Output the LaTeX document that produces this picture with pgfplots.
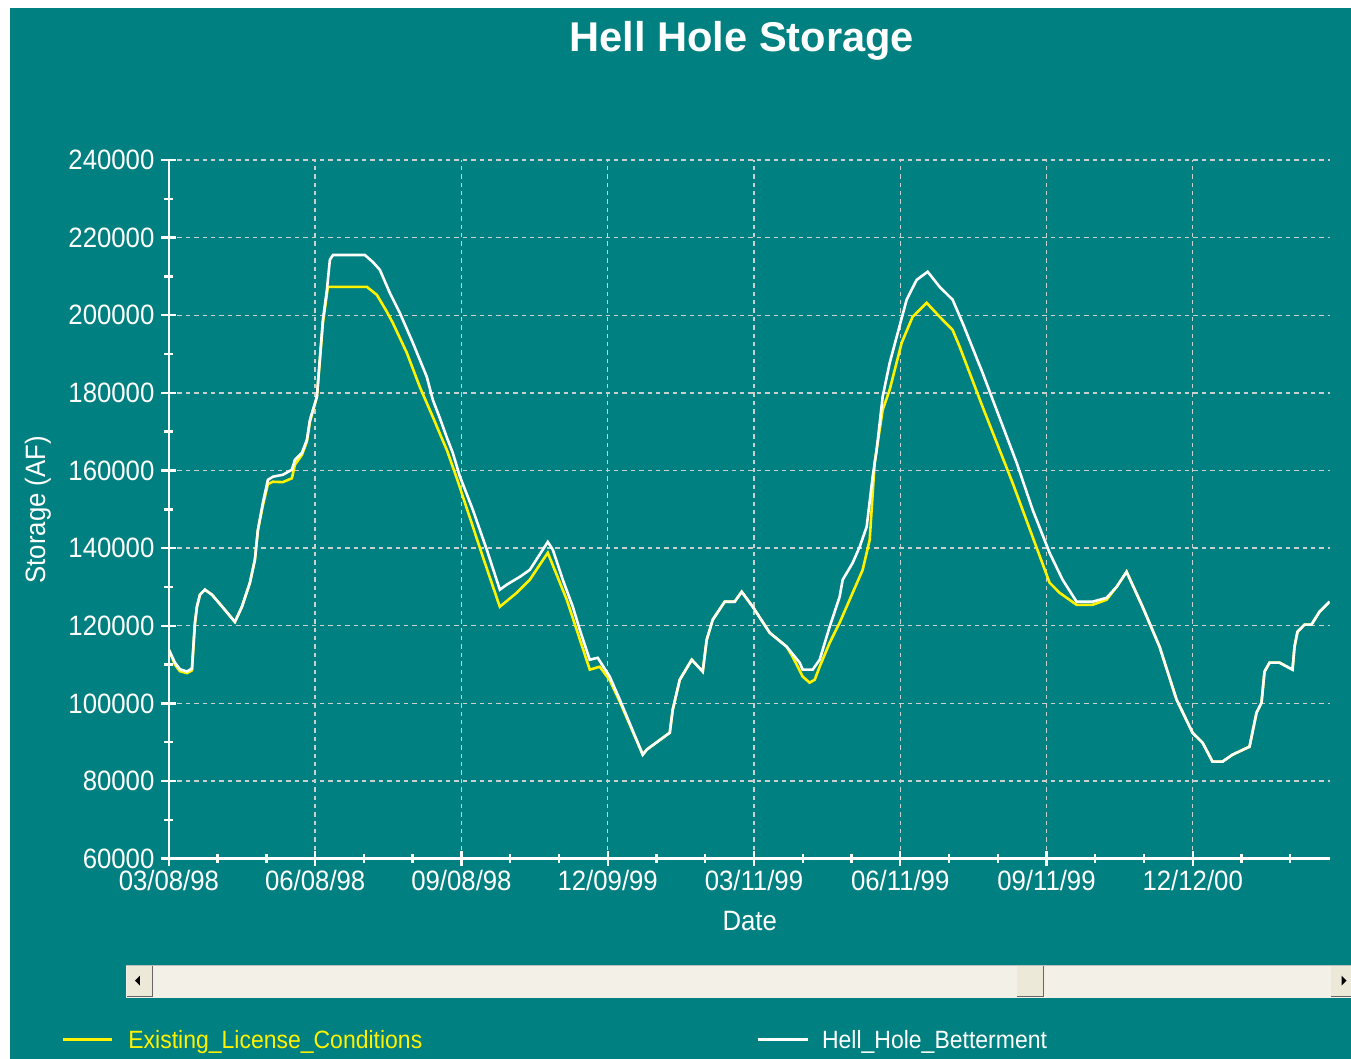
\documentclass[border=0pt]{standalone}
\usepackage{fontspec}
\setmainfont{Liberation Sans}[FakeStretch=0.92]
\newfontfamily\titlefont{Liberation Sans}
\usepackage{pgfplots}
\pgfplotsset{compat=1.18}
\definecolor{bgteal}{RGB}{0,128,128}
\definecolor{gridc}{RGB}{200,208,208}
\definecolor{sbar}{RGB}{243,241,231}
\definecolor{sbtn}{RGB}{236,233,216}

\pgfplotstableread{
x y
0 113800
0.123 110000
0.226 108300
0.369 107800
0.472 108500
0.533 120500
0.574 124900
0.636 128000
0.738 129300
0.882 128000
1.087 125000
1.353 121000
1.497 124900
1.661 131100
1.763 137000
1.825 144700
1.927 151000
2.030 156500
2.132 157100
2.337 157000
2.522 158000
2.584 161500
2.727 164000
2.830 167500
2.891 172500
3.035 179000
3.158 198000
3.260 207300
4.060 207300
4.265 205250
4.470 200900
4.593 198000
4.880 190300
5.147 181500
5.413 173800
5.557 169500
5.700 165300
5.905 158000
6.438 137800
6.787 124900
7.135 128500
7.402 131850
7.771 138800
8.161 126700
8.632 108700
8.837 109450
9.042 106000
9.247 100500
9.719 86800
9.801 88100
10.273 92450
10.334 98400
10.478 106100
10.724 111250
10.949 108200
11.031 116400
11.154 121550
11.400 126200
11.605 126200
11.749 128750
11.975 124900
12.323 118200
12.672 114600
12.795 112000
13.000 106900
13.143 105350
13.246 106100
13.348 109450
13.553 115600
13.758 120800
14.025 128500
14.230 134400
14.374 142100
14.476 162000
14.640 175600
14.784 180800
15.030 192900
15.255 199600
15.542 203200
15.809 199600
16.075 196200
16.219 191900
16.690 176400
17.306 156800
17.716 142900
18.064 131100
18.269 128500
18.618 125400
18.946 125400
19.233 126700
19.438 130000
19.643 133900
19.971 124900
20.320 114600
20.668 101000
20.996 92450
21.201 89900
21.406 85000
21.611 85000
21.817 86800
22.165 88850
22.309 97600
22.411 100200
22.473 108200
22.576 110500
22.780 110500
23.047 108700
23.088 114600
23.149 118450
23.293 120300
23.436 120300
23.600 123600
23.806 126200
}\existing

\pgfplotstableread{
x y
0 113800
0.123 110500
0.226 108800
0.369 108200
0.472 109000
0.533 120800
0.574 124900
0.636 128000
0.738 129300
0.882 128000
1.087 125000
1.353 121000
1.497 124900
1.661 131100
1.763 137000
1.825 144700
1.927 151700
2.030 157600
2.132 158400
2.337 158900
2.522 160200
2.584 162750
2.727 164550
2.830 167900
2.891 173000
3.035 179000
3.158 198800
3.240 206500
3.301 214250
3.363 215500
4.019 215500
4.183 213700
4.326 211700
4.531 205750
4.736 200600
5.003 192900
5.290 184100
5.413 178200
5.557 173500
5.700 168500
5.823 164500
5.967 158500
6.233 149900
6.520 139600
6.787 129300
6.930 130600
7.197 132600
7.402 134400
7.771 141600
7.874 139600
8.079 131850
8.284 124900
8.427 119000
8.632 111250
8.796 111750
9.042 106900
9.247 101000
9.719 86800
9.801 88100
10.273 92450
10.334 98400
10.478 106100
10.724 111250
10.949 108200
11.031 116400
11.154 121550
11.400 126200
11.605 126200
11.749 128750
11.975 124900
12.323 118200
12.672 114600
12.938 110500
13.000 108700
13.205 108700
13.348 111250
13.553 119750
13.758 127500
13.820 131850
14.025 136200
14.169 140350
14.312 145500
14.435 158400
14.517 165300
14.640 179000
14.784 187700
14.927 194400
15.132 204000
15.337 209100
15.563 211200
15.809 207300
16.075 204000
16.280 198000
16.690 185150
16.977 175600
17.388 162000
17.716 149900
18.064 138800
18.331 131850
18.618 126200
18.946 126200
19.233 127200
19.438 130000
19.643 133900
19.971 124900
20.320 114600
20.668 101000
20.996 92450
21.201 89900
21.406 85000
21.611 85000
21.817 86800
22.165 88850
22.309 97600
22.411 100200
22.473 108200
22.576 110500
22.780 110500
23.047 108700
23.088 114600
23.149 118450
23.293 120300
23.436 120300
23.600 123600
23.806 126200
}\betterment

\begin{document}
\begin{tikzpicture}
\begin{scope}[x=0.5pt,y=-0.5pt]
\fill[white] (0,0) rectangle (1351,1059);
\fill[bgteal] (10,8) rectangle (1351,1059);
\node[text=white, font=\titlefont\bfseries\fontsize{20.8}{24}\selectfont] at (742,41) {Hell Hole Storage};
\node[text=white, rotate=90, font=\fontsize{14}{16}\selectfont] at (38,510) {Storage (AF)};
\node[text=white, font=\fontsize{14}{16}\selectfont] at (750,921) {Date};
% scrollbar
\fill[sbar] (126,965) rectangle (1351,998);
\draw[gray!50, line width=0.5pt] (126,965.5) -- (1351,965.5);
\fill[sbtn] (127,966) rectangle (153,997);
\draw[gray!80!black, line width=0.5pt] (153,966) -- (153,997) -- (127,997);
\fill[black] (135,981) -- (140,976) -- (140,986) -- cycle;
\fill[sbtn] (1017,966) rectangle (1044,997);
\draw[gray!80!black, line width=0.5pt] (1044,966) -- (1044,997) -- (1017,997);
\fill[sbtn] (1331,966) rectangle (1351,997);
\draw[gray!80!black, line width=0.5pt] (1331,997) -- (1351,997);
\fill[black] (1347,981) -- (1342,976) -- (1342,986) -- cycle;
% legend
\draw[yellow, line width=1.2pt] (63,1040) -- (112,1040);
\node[anchor=west, text=yellow, inner sep=0pt, font=\fontsize{12.5}{14}\selectfont] at (128,1042) {Existing\_License\_Conditions};
\draw[white, line width=1.2pt] (758,1040) -- (808,1040);
\node[anchor=west, text=white, inner sep=0pt, font=\fontsize{12.5}{14}\selectfont] at (822,1042) {Hell\_Hole\_Betterment};
\end{scope}
\begin{axis}[
  at={(84.5pt,-429.5pt)}, anchor=south west,
  scale only axis, width=580.5pt, height=349.5pt,
  xmin=0, xmax=23.806, ymin=60000, ymax=240000,
  axis x line=bottom, axis y line=left,
  axis line style={white, line width=1.2pt, -},
  xtick={0,3,...,21},
  xticklabels={03/08/98,06/08/98,09/08/98,12/09/99,03/11/99,06/11/99,09/11/99,12/12/00},
  minor xtick={1,2,4,5,7,8,10,11,13,14,16,17,19,20,22,23},
  ytick={60000,80000,...,240000},
  minor ytick={70000,90000,...,230000},
  scaled y ticks=false,
  yticklabel style={/pgf/number format/.cd, fixed, precision=0, 1000 sep={}, assume math mode=true},
  xticklabel style={yshift=1.5pt},
  tick align=center, major tick length=7.5pt, minor tick length=4.5pt,
  tick style={white, line width=1.2pt},
  minor tick style={white, line width=1.2pt},
  grid=major,
  major grid style={gridc, dash pattern=on 2.2pt off 2pt, line width=0.7pt},
  ticklabel style={text=white, font=\fontsize{14}{16}\selectfont},
]
\addplot[yellow, line width=1.3pt] table[x=x,y=y] {\existing};
\addplot[white, line width=1.3pt] table[x=x,y=y] {\betterment};
\end{axis}
\end{tikzpicture}
\end{document}
